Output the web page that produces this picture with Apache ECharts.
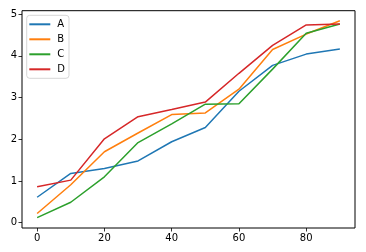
<!DOCTYPE html>
<html>
<head>
<meta charset="utf-8">
<script src="https://cdn.jsdelivr.net/npm/echarts@6/dist/echarts.min.js"></script>
<style>html,body{margin:0;padding:0;background:#fff}#c{width:366px;height:252px}</style>
</head>
<body>
<div id="c"></div>
<script>
var xValues = [0, 10, 20, 30, 40, 50, 60, 70, 80, 90];
var seriesA = [0.61, 1.18, 1.30, 1.48, 1.94, 2.28, 3.15, 3.77, 4.04, 4.16];
var seriesB = [0.22, 0.91, 1.70, 2.15, 2.59, 2.63, 3.20, 4.15, 4.52, 4.84];
var seriesC = [0.12, 0.49, 1.10, 1.92, 2.37, 2.84, 2.85, 3.68, 4.54, 4.76];
var seriesD = [0.86, 1.02, 2.01, 2.54, 2.71, 2.89, 3.58, 4.25, 4.74, 4.76];
var seriesNames = ['A', 'B', 'C', 'D'];
var xTicks = [0, 20, 40, 60, 80];
var yTicks = [0, 1, 2, 3, 4, 5];

var colors = ['#1f77b4', '#ff7f0e', '#2ca02c', '#d62728'];
var all = [seriesA, seriesB, seriesC, seriesD];
function pairs(vals){ return xValues.map(function(x,i){ return [x, vals[i]]; }); }

var chart = echarts.init(document.getElementById('c'), null, {renderer:'canvas'});
var font = 'DejaVu Sans';
chart.setOption({
  animation: false,
  color: colors,
  grid: {left: 22, right: 11, top: 10.7, bottom: 24, show: true, borderColor: '#000', borderWidth: 1, backgroundColor: 'transparent'},
  legend: {
    orient: 'vertical', left: 26.7, top: 15.3,
    data: seriesNames.map(function(n){ return {name: n, icon: 'rect'}; }),
    itemWidth: 21, itemHeight: 2, itemGap: 3,
    padding: [3, 4, 3, 2.6],
    backgroundColor: 'rgba(255,255,255,0.8)', borderColor: 'rgba(204,204,204,0.8)', borderWidth: 1, borderRadius: 3,
    textStyle: {fontFamily: font, fontSize: 10, color: '#000', lineHeight: 12, padding: [0,0,0,2]}
  },
  xAxis: {
    type: 'value', min: -4.5, max: 94.5,
    splitLine: {show: false},
    axisLine: {show: false, onZero: false},
    axisTick: {show: true, customValues: xTicks, length: 3.5, lineStyle: {color: '#000', width: 0.8}},
    axisLabel: {customValues: xTicks, fontFamily: font, fontSize: 10, color: '#000', margin: 5}
  },
  yAxis: {
    type: 'value', min: -0.127, max: 5.08,
    splitLine: {show: false},
    axisLine: {show: false, onZero: false},
    axisTick: {show: true, customValues: yTicks, length: 3.5, lineStyle: {color: '#000', width: 0.8}},
    axisLabel: {customValues: yTicks, fontFamily: font, fontSize: 10, color: '#000', margin: 5}
  },
  series: all.map(function(vals, i){
    return {name: seriesNames[i], type: 'line', data: pairs(vals), symbol: 'none',
      lineStyle: {width: 1.5, color: colors[i]}, itemStyle: {color: colors[i]}};
  })
});
</script>
</body>
</html>
